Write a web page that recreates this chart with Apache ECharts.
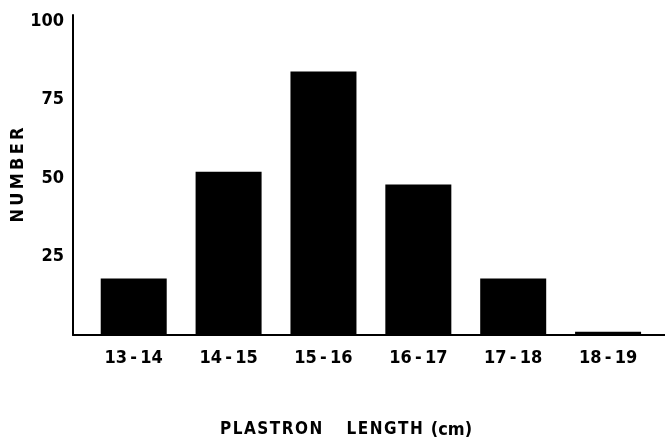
<!DOCTYPE html>
<html>
<head>
<meta charset="utf-8">
<script src="https://cdn.jsdelivr.net/npm/echarts@6/dist/echarts.min.js"></script>
<style>
html,body{margin:0;padding:0;background:#fff;}
#c{width:665px;height:447px;}
</style>
</head>
<body>
<div id="c"></div>
<script>
var categories = ['13\u2009-\u200914', '14\u2009-\u200915', '15\u2009-\u200916', '16\u2009-\u200917', '17\u2009-\u200918', '18\u2009-\u200919'];
var classMids = [13.5, 14.5, 15.5, 16.5, 17.5, 18.5];
var counts = [18, 52, 84, 48, 18, 1];
var yTicks = [25, 50, 75, 100];

var font = '"DejaVu Sans Condensed", "DejaVu Sans", sans-serif';
var chart = echarts.init(document.getElementById('c'));
var seriesData = classMids.map(function (m, i) { return [m, counts[i]]; });

chart.setOption({
  backgroundColor: '#fff',
  animation: false,
  grid: { left: 73, right: 0, top: 15, bottom: 112, outerBoundsMode: 'none', containLabel: false },
  xAxis: {
    type: 'value',
    min: 12.86,
    max: 19.1,
    axisLine: { show: true, lineStyle: { color: '#000', width: 2 } },
    axisTick: { show: false },
    splitLine: { show: false },
    axisLabel: {
      customValues: classMids,
      margin: 14,
      color: '#000',
      fontFamily: font,
      fontWeight: 'bold',
      fontSize: 18,
      formatter: function (v) {
        var i = classMids.indexOf(v);
        return i >= 0 ? categories[i] : '';
      }
    },
    name: '{b|P\u200aL\u200aA\u200aS\u200aT\u200aR\u200aO\u200aN}{s|      }{b|L\u200aE\u200aN\u200aG\u200aT\u200aH}{s|  }{n|(cm)}',
    nameLocation: 'middle',
    nameGap: 86,
    nameTextStyle: {
      padding: [0, 46, 0, 0],
      rich: {
        b: { fontFamily: font, fontWeight: 'bold', fontSize: 17, color: '#000' },
        s: { fontFamily: font, fontSize: 14, color: '#000' },
        n: { fontFamily: font, fontWeight: 'bold', fontSize: 18, color: '#000' }
      }
    }
  },
  yAxis: {
    type: 'value',
    min: 0,
    max: 102,
    axisLine: { show: true, lineStyle: { color: '#000', width: 2 } },
    axisTick: { show: false },
    splitLine: { show: false },
    axisLabel: {
      customValues: yTicks,
      margin: 9,
      color: '#000',
      fontFamily: font,
      fontWeight: 'bold',
      fontSize: 18
    },
    name: 'N\u2009U\u2009M\u2009B\u2009E\u2009R',
    nameLocation: 'middle',
    nameRotate: 90,
    nameGap: 46,
    nameMoveOverlap: false,
    nameTextStyle: { fontFamily: font, fontWeight: 'bold', fontSize: 18, color: '#000' }
  },
  series: [{
    type: 'bar',
    data: seriesData,
    barWidth: 66,
    itemStyle: { color: '#000' }
  }]
});
</script>
</body>
</html>
